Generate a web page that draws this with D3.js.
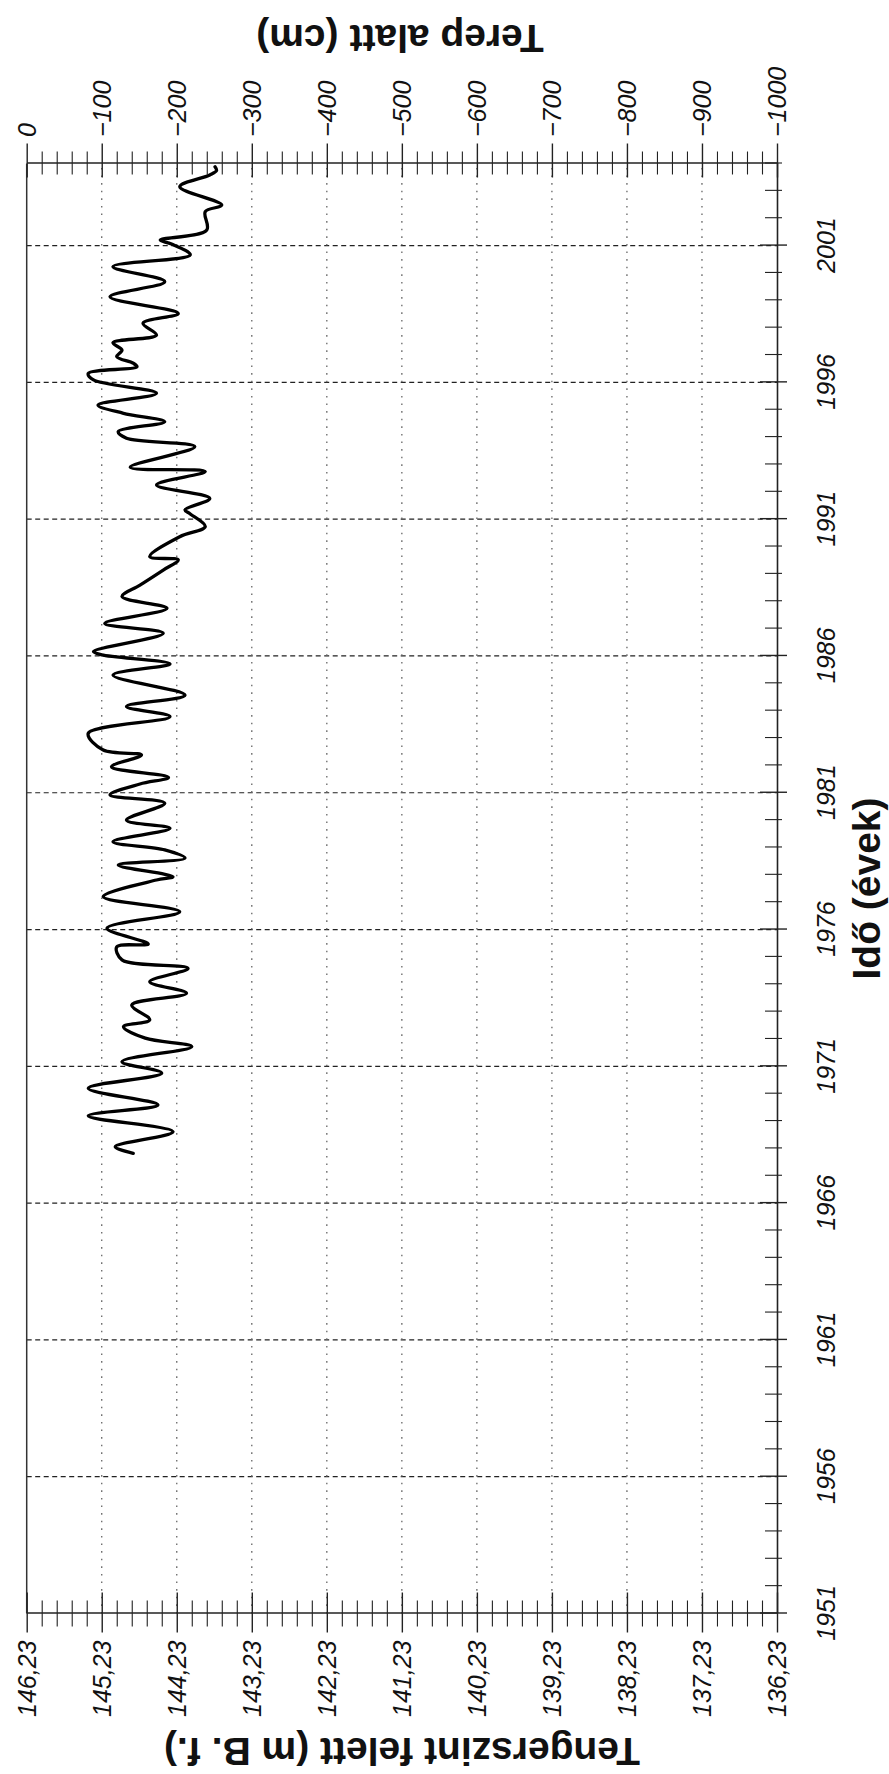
<!DOCTYPE html>
<html>
<head>
<meta charset="utf-8">
<script src="https://cdn.jsdelivr.net/npm/d3@7"></script>
<style>
  html, body { margin: 0; padding: 0; background: #fff; }
  svg { display: block; }
  .tick-label { font-family: "Liberation Sans", Arial, sans-serif; font-style: italic; font-size: 25px; fill: #111; }
  .title { font-family: "Liberation Sans", Arial, sans-serif; font-weight: bold; font-size: 39px; fill: #111; }
</style>
</head>
<body>
<script>
// Groundwater level record: decimal year and depth below ground (cm)
const years = [
  1967.82, 1968.06, 1968.61, 1969.19, 1969.59, 1970.20, 1970.75, 1971.17, 1971.72, 1972.03,
  1972.45, 1972.70, 1973.24, 1973.67, 1974.09, 1974.58, 1974.89, 1975.37, 1975.47, 1976.05,
  1976.65, 1977.20, 1977.81, 1977.93, 1978.36, 1978.61, 1978.91, 1979.21, 1979.70, 1980.00,
  1980.62, 1980.92, 1981.32, 1981.56, 1981.95, 1982.38, 1982.56, 1983.17, 1983.78, 1984.15,
  1984.57, 1985.30, 1985.71, 1986.04, 1986.16, 1986.83, 1987.19, 1987.74, 1988.17, 1988.59,
  1989.14, 1989.51, 1989.63, 1990.36, 1990.73, 1991.19, 1991.34, 1991.76, 1992.25, 1992.74,
  1992.90, 1993.65, 1993.96, 1994.20, 1994.56, 1994.87, 1995.17, 1995.60, 1996.09, 1996.33,
  1996.57, 1996.70, 1996.94, 1997.18, 1997.45, 1997.73, 1998.16, 1998.52, 1999.13, 1999.68,
  2000.23, 2000.66, 2001.06, 2001.20, 2001.57, 2002.24, 2002.48, 2003.15, 2003.58, 2003.74,
  2003.88
];
const depthCm = [
  -142, -118, -195, -82, -175, -82, -180, -127, -220, -158,
  -129, -164, -140, -213, -164, -215, -127, -120, -162, -107,
  -204, -102, -173, -195, -122, -211, -184, -115, -191, -133,
  -184, -111, -151, -189, -113, -153, -102, -82, -191, -133,
  -211, -115, -191, -100, -89, -182, -104, -187, -127, -151,
  -182, -202, -164, -204, -238, -218, -211, -244, -173, -238,
  -138, -224, -133, -122, -184, -129, -95, -173, -89, -82,
  -147, -142, -120, -127, -115, -173, -155, -202, -111, -184,
  -115, -218, -193, -178, -240, -238, -260, -204, -244, -253,
  -251
];

// Axis definitions
const yearDomain = [1951, 2004];
const yearLabels = [1951, 1956, 1961, 1966, 1971, 1976, 1981, 1986, 1991, 1996, 2001];
const cmDomain = [0, -1000];
const cmLabels = [0, -100, -200, -300, -400, -500, -600, -700, -800, -900, -1000];
const mDomain = [146.23, 136.23];
const mLabels = [146.23, 145.23, 144.23, 143.23, 142.23, 141.23, 140.23, 139.23, 138.23, 137.23, 136.23];
const timeTitle = "Idő (évek)";
const leftTitle = "Tengerszint felett (m B. f.)";
const rightTitle = "Terep alatt (cm)";

const svgW = 889, svgH = 1774;
const W = 1450, H = 750.3;   // chart frame before the page rotation

const svg = d3.select("body").append("svg")
  .attr("width", svgW).attr("height", svgH)
  .style("background", "#fff");

// The chart is laid out landscape and turned a quarter-turn onto the portrait page
const g = svg.append("g").attr("transform", "translate(26.7,1613.5) rotate(-90)");

const x = d3.scaleLinear().domain(yearDomain).range([0, W]);
const yCm = d3.scaleLinear().domain(cmDomain).range([0, H]);
const yM = d3.scaleLinear().domain(mDomain).range([0, H]);

// Grid: dashed year lines, dotted depth lines
g.append("g").selectAll("line")
  .data(yearLabels.filter(d => d > 1951))
  .join("line")
  .attr("x1", d => x(d)).attr("x2", d => x(d))
  .attr("y1", 0).attr("y2", H)
  .attr("stroke", "#222").attr("stroke-width", 1.2)
  .attr("stroke-dasharray", "5,3.5");

g.append("g").selectAll("line")
  .data(cmLabels.filter(d => d < 0 && d > -1000))
  .join("line")
  .attr("x1", 0).attr("x2", W)
  .attr("y1", d => yCm(d)).attr("y2", d => yCm(d))
  .attr("stroke", "#666").attr("stroke-width", 1.3)
  .attr("stroke-dasharray", "1.6,6");

// Frame line along the ground level
g.append("line").attr("x1", 0).attr("x2", W).attr("y1", 0).attr("y2", 0)
  .attr("stroke", "#333").attr("stroke-width", 1.5);

// Ticks that cross the axis line, longer at the labelled values
function crossTicks(sel, isMajor, inner, outer, innerMinor, outerMinor, sign) {
  const horiz = sel.attr("data-dir") === "h";
  sel.selectAll(".tick line").each(function(d) {
    const major = isMajor(d);
    const a = major ? inner : innerMinor;
    const b = major ? outer : outerMinor;
    d3.select(this).attr(horiz ? "x1" : "y1", -a * sign)
      .attr(horiz ? "x2" : "y2", b * sign)
      .attr("stroke", "#222").attr("stroke-width", major ? 1.4 : 1.1);
  });
  sel.select(".domain").attr("stroke", "#222").attr("stroke-width", 1.6);
}

// Time axis
const yearTicks = d3.range(1951, 2005);
const xAxis = g.append("g").attr("transform", `translate(0,${H})`).attr("data-dir", "v")
  .call(d3.axisBottom(x).tickValues(yearTicks).tickSizeOuter(0)
    .tickFormat(d => yearLabels.includes(d) ? d3.format("d")(d) : ""));
crossTicks(xAxis, d => yearLabels.includes(d), 17, 10, 12, 5, 1);
xAxis.selectAll(".tick text").attr("class", "tick-label")
  .attr("y", 58).attr("dy", 0).attr("font-size", null).attr("font-family", null);

// Left axis: elevation above sea level
const mTicks = d3.range(0, 51).map(i => +(136.23 + i * 0.2).toFixed(2));
const isMLabel = d => mLabels.some(v => Math.abs(v - d) < 1e-6);
const fmtM = d => d3.format(".2f")(d).replace(".", ",");
const leftAxis = g.append("g").attr("data-dir", "h")
  .call(d3.axisLeft(yM).tickValues(mTicks).tickSizeOuter(0)
    .tickFormat(d => isMLabel(d) ? fmtM(d) : ""));
crossTicks(leftAxis, isMLabel, 21, 19, 13, 13, -1);
leftAxis.selectAll(".tick text").attr("class", "tick-label")
  .attr("x", -27).attr("dy", "0.34em").attr("font-size", null).attr("font-family", null);

// Right axis: depth below ground
const cmTicks = d3.range(0, 51).map(i => -i * 20);
const rightAxis = g.append("g").attr("transform", `translate(${W},0)`).attr("data-dir", "h")
  .call(d3.axisRight(yCm).tickValues(cmTicks).tickSizeOuter(0)
    .tickFormat(d => cmLabels.includes(d) ? d3.format("d")(d) : ""));
crossTicks(rightAxis, d => cmLabels.includes(d), 14, 20, 11, 12, 1);
rightAxis.selectAll(".tick text").attr("class", "tick-label")
  .attr("x", 26.5).attr("dy", "0.34em").attr("font-size", null).attr("font-family", null);

// Water level line
const line = d3.line()
  .x((d, i) => x(years[i]))
  .y(d => yCm(d))
  .curve(d3.curveCatmullRom.alpha(0.5));
g.append("path")
  .datum(depthCm)
  .attr("d", line)
  .attr("fill", "none")
  .attr("stroke", "#000")
  .attr("stroke-width", 3.3)
  .attr("stroke-linejoin", "round")
  .attr("stroke-linecap", "round");

// Titles
g.append("text").attr("class", "title")
  .attr("text-anchor", "middle")
  .attr("x", W / 2).attr("y", 853)
  .text(timeTitle);

g.append("text").attr("class", "title")
  .attr("text-anchor", "middle")
  .attr("transform", `translate(-124,375.3) rotate(-90)`)
  .text(leftTitle);

g.append("text").attr("class", "title")
  .attr("text-anchor", "middle")
  .attr("transform", `translate(1588.5,373.3) rotate(-90)`)
  .text(rightTitle);
</script>
</body>
</html>
